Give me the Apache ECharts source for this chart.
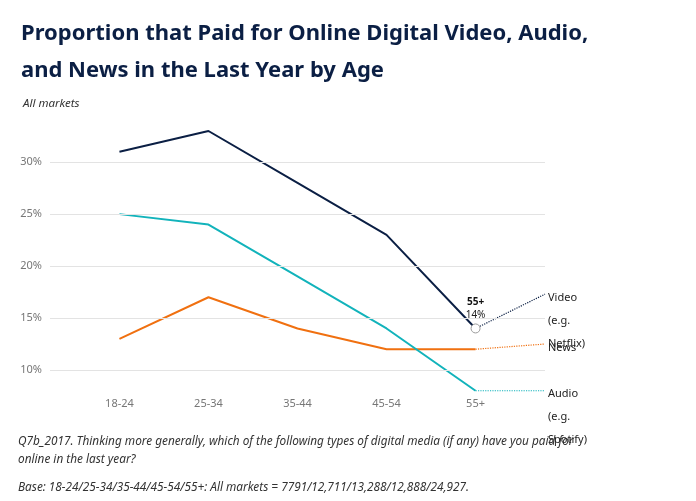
<!DOCTYPE html>
<html><head><meta charset="utf-8">
<script src="https://cdn.jsdelivr.net/npm/echarts@6/dist/echarts.min.js"></script>
<style>body{margin:0}#c{width:696px;height:501px}</style></head>
<body><div id="c"></div>
<script>
const categories = ['18-24','25-34','35-44','45-54','55+'];
const video = [31,33,28,23,14];
const audio = [25,24,19,14,8];
const news = [13,17,14,12,12];
const videoExt = 17.3, newsExt = 12.5, audioExt = 8;
const yTicks = [10,15,20,25,30];
const ch = echarts.init(document.getElementById('c'));
const pts = a => a.map((v,i)=>[i,v]);
const ext = (a,e,label,color)=>({type:'line',data:[[4,a[4]],[4.78,e]],
  symbol:'none',lineStyle:{type:'dotted',width:1.2,color},silent:true,
  endLabel:{show:true,formatter:label,color:'#222',fontSize:11,lineHeight:23,verticalAlign:'top',distance:3,offset:[0,-8]}});
ch.setOption({
  animation:false,
  textStyle:{fontFamily:'Noto Sans'},
  title:[{text:'Proportion that Paid for Online Digital Video, Audio,\nand News in the Last Year by Age',left:16,top:10,textStyle:{fontSize:22,fontWeight:'bold',color:'#0b1f44',lineHeight:37,fontFamily:'Noto Sans'}},
   {text:'All markets',left:18,top:93,textStyle:{fontSize:11.5,fontStyle:'italic',fontWeight:'normal',color:'#333'}}],
  graphic:[{type:'text',left:18,top:433,style:{text:'Q7b_2017. Thinking more generally, which of the following types of digital media (if any) have you paid for\nonline in the last year?',fontSize:11.8,fontStyle:'italic',fill:'#333',lineHeight:18,fontFamily:'Noto Sans'}},
   {type:'text',left:18,top:482,style:{text:'Base: 18-24/25-34/35-44/45-54/55+: All markets = 7791/12,711/13,288/12,888/24,927.',fontSize:11.8,fontStyle:'italic',fill:'#333',fontFamily:'Noto Sans'}}],
  grid:{left:50,right:151,top:120.6,bottom:110.2},
  xAxis:{type:'value',min:-0.78,max:4.78,axisLine:{show:false},axisTick:{show:false},splitLine:{show:false},
    axisLabel:{customValues:[0,1,2,3,4],formatter:v=>categories[Math.round(v)],color:'#777',fontSize:11,margin:8}},
  yAxis:{type:'value',min:8,max:34,splitLine:{show:false},axisLine:{show:false},axisTick:{show:false},
    axisLabel:{customValues:yTicks,formatter:'{value}%',color:'#777',fontSize:11,margin:8}},
  series:[
    {type:'line',data:[],markLine:{silent:true,symbol:'none',label:{show:false},lineStyle:{color:'#e3e3e3',type:'solid',width:1},data:yTicks.map(v=>({yAxis:v}))}},
    ext(news,newsExt,'News','#f07010'),
    ext(audio,audioExt,'Audio\n(e.g.\nSpotify)','#12b3bb'),
    ext(video,videoExt,'Video\n(e.g.\nNetflix)','#0b1f44'),
    {type:'line',data:pts(news),symbol:'none',lineStyle:{color:'#f07010',width:2}},
    {type:'line',data:pts(audio),symbol:'none',lineStyle:{color:'#12b3bb',width:2}},
    {type:'line',data:pts(video),lineStyle:{color:'#0b1f44',width:2},showSymbol:false,symbol:'none',
     markPoint:{data:[{coord:[4,14],symbol:'circle',symbolSize:9,itemStyle:{color:'#fff',borderColor:'#999',borderWidth:1},
       label:{show:true,position:'top',distance:2,formatter:'{b|55+}\n{a|14%}',rich:{b:{fontWeight:'bold',fontSize:10,color:'#111',lineHeight:13},a:{fontSize:10,color:'#222',lineHeight:13}}}}]}}
  ]
});
</script></body></html>
